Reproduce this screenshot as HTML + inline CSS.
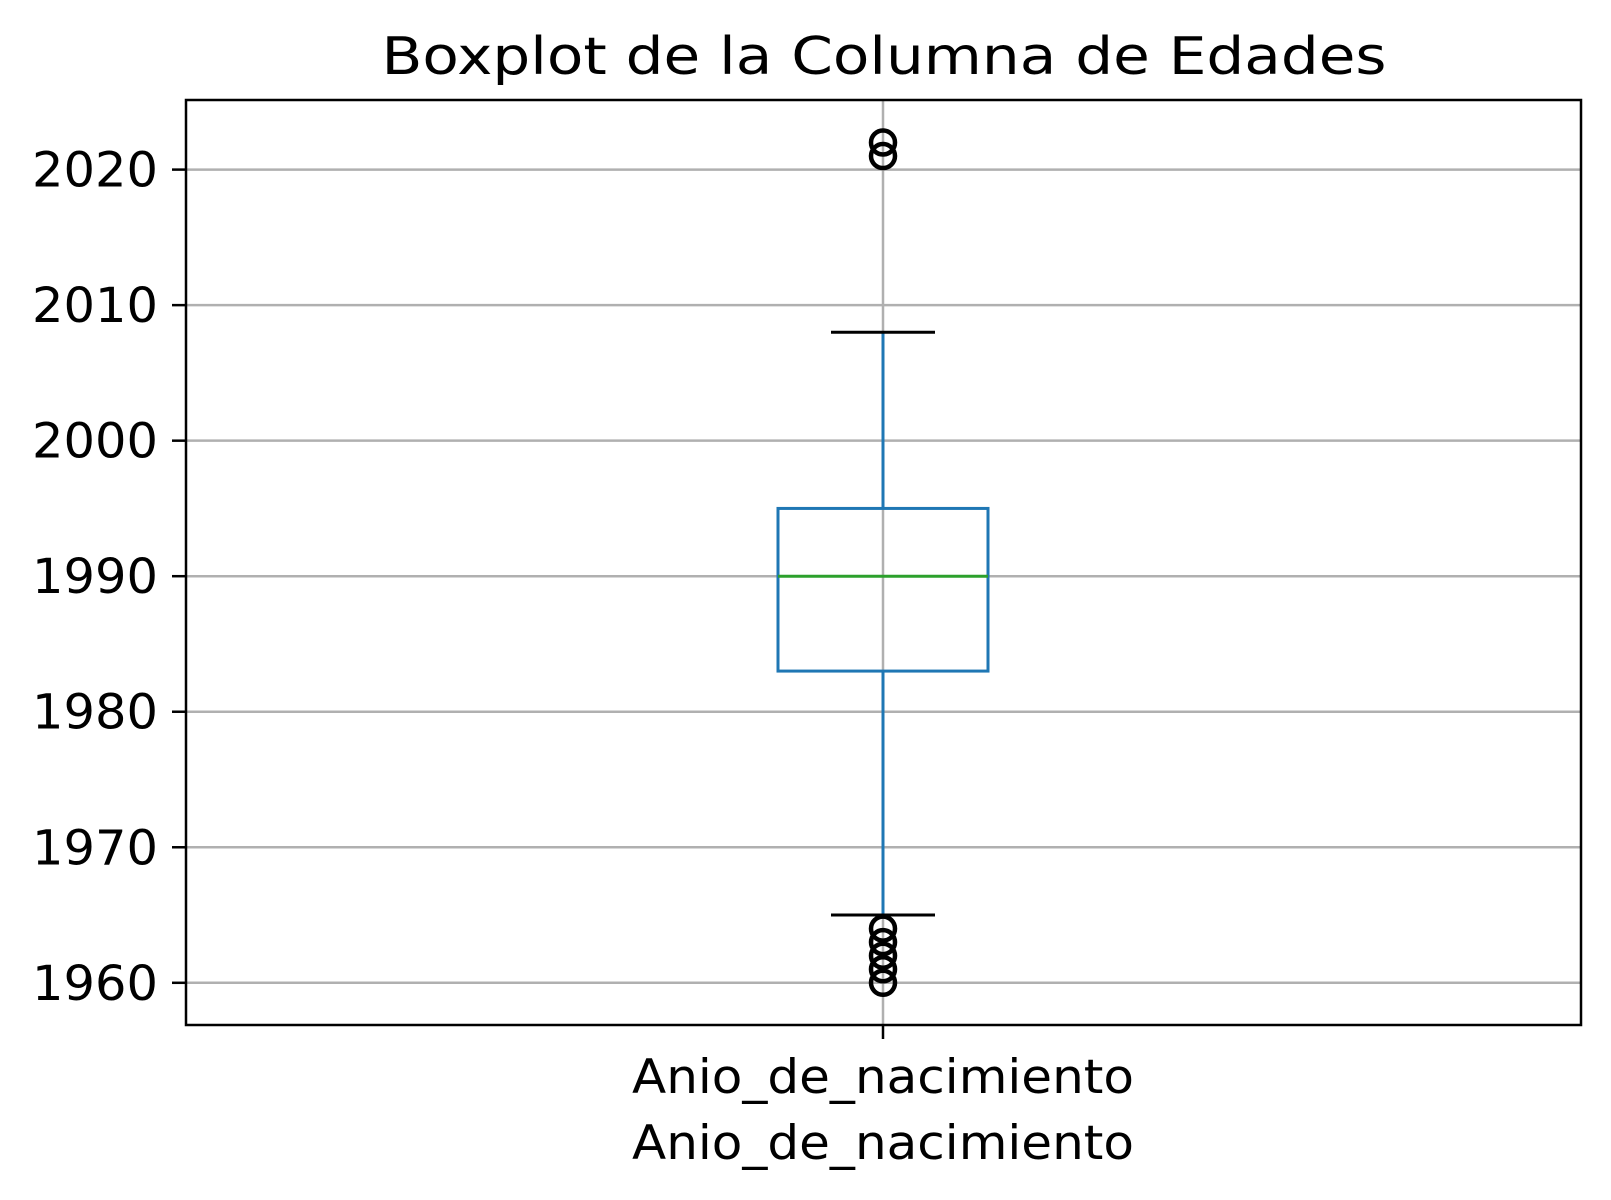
<!DOCTYPE html>
<html><head><meta charset="utf-8"><style>body{margin:0;background:#fff}svg{display:block}text{font-family:"DejaVu Sans","Liberation Sans",sans-serif;fill:#000}</style></head>
<body>
<svg id="chart" width="1611" height="1200"></svg>
<script>
const yTicks=[1960,1970,1980,1990,2000,2010,2020];
const category=["Anio_de_nacimiento"];
const q1=[1983], median=[1990], q3=[1995], whiskerLow=[1965], whiskerHigh=[2008];
const outliers=[2021,2022,1960,1961,1962,1963,1964];
const NS="http://www.w3.org/2000/svg";
const svg=document.getElementById('chart');
const L=186,R=1581,T=100,B=1025;
const y=v=>169.6+(2020-v)*(982.8-169.6)/60;
const xc=(L+R)/2-0.5;
function el(t,a,txt){const e=document.createElementNS(NS,t);for(const k in a)e.setAttribute(k,a[k]);if(txt!==undefined)e.textContent=txt;svg.appendChild(e);return e;}
let e;
e=el('text',{x:884,y:74,'font-size':52,'text-anchor':'middle',textLength:1005,lengthAdjust:'spacingAndGlyphs'});e.textContent="Boxplot de la Columna de Edades";


yTicks.forEach(v=>{
 e=el('line',{x1:L,x2:R,y1:y(v),y2:y(v),stroke:'#b0b0b0','stroke-width':2.5});
 
 
 e=el('line',{x1:L-14,x2:L,y1:y(v),y2:y(v),stroke:'#000','stroke-width':2.5});
 
 
 e=el('text',{x:L-28,y:y(v)+17,'font-size':48,'text-anchor':'end',textLength:126,lengthAdjust:'spacingAndGlyphs'},String(v));
 
 
});
e=el('line',{x1:xc,x2:xc,y1:T,y2:B,stroke:'#b0b0b0','stroke-width':2.5});


e=el('line',{x1:xc,x2:xc,y1:B,y2:B+14,stroke:'#000','stroke-width':2.5});


const bw=105,cw=52;
e=el('line',{x1:xc,x2:xc,y1:y(q3[0]),y2:y(whiskerHigh[0]),stroke:'#1f77b4','stroke-width':3});


e=el('line',{x1:xc,x2:xc,y1:y(q1[0]),y2:y(whiskerLow[0]),stroke:'#1f77b4','stroke-width':3});


e=el('rect',{x:xc-bw,y:y(q3[0]),width:2*bw,height:y(q1[0])-y(q3[0]),fill:'none',stroke:'#1f77b4','stroke-width':3});


e=el('line',{x1:xc-bw,x2:xc+bw,y1:y(median[0]),y2:y(median[0]),stroke:'#2ca02c','stroke-width':3});


[whiskerHigh[0],whiskerLow[0]].forEach(v=>{
 e=el('line',{x1:xc-cw,x2:xc+cw,y1:y(v),y2:y(v),stroke:'#000','stroke-width':3});
 
 
});
outliers.forEach(v=>{
 e=el('circle',{cx:xc,cy:y(v),r:12,fill:'none',stroke:'#000','stroke-width':4.5});
 
 
});
e=el('rect',{x:L,y:T,width:R-L,height:B-T,fill:'none',stroke:'#000','stroke-width':2.5});


e=el('text',{x:xc,y:1093,'font-size':47,'text-anchor':'middle',textLength:502,lengthAdjust:'spacingAndGlyphs'},category[0]);


e=el('text',{x:xc,y:1159,'font-size':47,'text-anchor':'middle',textLength:502,lengthAdjust:'spacingAndGlyphs'},category[0]);


</script>
</body></html>
